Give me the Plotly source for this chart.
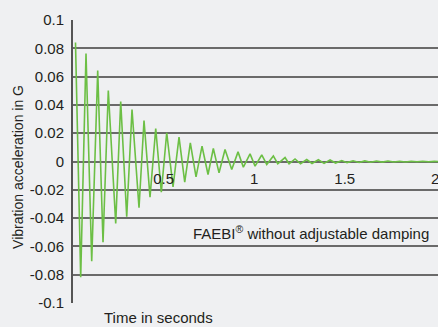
import plotly.graph_objects as go

# Extremes of the decaying oscillation (time in s, acceleration in G)
time_s = [0.0138, 0.0425, 0.0718, 0.1033, 0.1364, 0.1657, 0.1949, 0.2358, 0.2634, 0.2965,
          0.3258, 0.3644, 0.3920, 0.4252, 0.4567, 0.4876, 0.5174, 0.5522, 0.5853, 0.6168,
          0.6477, 0.6792, 0.7123, 0.7454, 0.7747, 0.8062, 0.8393, 0.8763, 0.9111, 0.9404,
          0.9774, 1.0050, 1.0420, 1.0696, 1.1060, 1.1303, 1.1706, 1.1927, 1.2258, 1.2562,
          1.2904, 1.3197, 1.3545, 1.3860, 1.4191, 1.4495, 1.4837, 1.5130, 1.5461, 1.5793,
          1.611, 1.643, 1.675, 1.707, 1.739, 1.771, 1.803, 1.835, 1.867, 1.899,
          1.931, 1.963, 1.995, 2.02]
accel_g = [0.0841, -0.0818, 0.0763, -0.0704, 0.0643, -0.0570, 0.0502, -0.0438, 0.0424, -0.0391,
           0.0367, -0.0327, 0.0290, -0.0252, 0.0233, -0.0217, 0.0203, -0.0179, 0.0172, -0.0146,
           0.0132, -0.0108, 0.0108, -0.0092, 0.0092, -0.0080, 0.0085, -0.0057, 0.0068, -0.0040,
           0.0054, -0.0033, 0.0046, -0.0021, 0.0039, -0.0016, 0.0028, -0.0016, 0.0018, -0.0016,
           0.0014, -0.0014, 0.0012, -0.0013, 0.0011, -0.0011, 0.0007, -0.0008, 0.0005, -0.0007,
           0.0004, -0.0005, 0.0003, -0.0004, 0.0003, -0.0003, 0.0002, -0.0003, 0.0002, -0.0002,
           0.0002, -0.0002, 0.0001, 0.0]

x_tick_vals = [0.5, 1, 1.5, 2]
x_tick_text = ["0.5", "1", "1.5", "2"]
y_tick_vals = [-0.1, -0.08, -0.06, -0.04, -0.02, 0, 0.02, 0.04, 0.06, 0.08, 0.1]
y_tick_text = ["-0.1", "-0.08", "-0.06", "-0.04", "-0.02", "0", "0.02", "0.04", "0.06", "0.08", "0.1"]

FAM = "Liberation Sans, Arial, sans-serif"
BG = "#eff0f2"
GRID = "#6a6a6a"
TXT = "#231f20"


def fnt(size):
    return dict(family=FAM, size=size, color=TXT)


fig = go.Figure()
fig.add_trace(go.Scatter(x=time_s, y=accel_g, mode="lines",
                         line=dict(color="#6cbf45", width=1.6), showlegend=False,
                         hoverinfo="skip"))

fig.update_layout(
    width=438, height=327,
    margin=dict(l=73, r=0, t=20, b=24, autoexpand=False),
    paper_bgcolor=BG, plot_bgcolor=BG,
    font=fnt(15),
    xaxis=dict(range=[0, 2.015], tickvals=x_tick_vals, ticktext=x_tick_text,
               showgrid=False, zeroline=False, showline=False, automargin=False,
               anchor="free", position=0.498, ticklabeloverflow="allow",
               ticks="outside", ticklen=3, tickcolor="rgba(0,0,0,0)",
               tickfont=fnt(15)),
    yaxis=dict(range=[-0.1, 0.1], tickvals=y_tick_vals, ticktext=y_tick_text,
               showgrid=True, gridcolor=GRID, gridwidth=1.6, automargin=False,
               zeroline=True, zerolinecolor=GRID, zerolinewidth=1.6,
               showline=True, linecolor="#555555", linewidth=2,
               ticks="outside", ticklen=4, tickcolor="rgba(0,0,0,0)",
               tickfont=fnt(15)),
    annotations=[
        dict(text="Vibration acceleration in G", xref="paper", yref="paper",
             x=-0.1493, y=0.479, xanchor="center", yanchor="middle",
             textangle=-90, showarrow=False, font=fnt(14)),
        dict(text="Time in seconds", xref="paper", yref="paper",
             x=0.0795, y=-0.053, xanchor="left", yanchor="middle",
             showarrow=False, font=fnt(15)),
        dict(text="FAEBI<sup>®</sup> without adjustable damping", xref="paper", yref="y",
             x=0.981, y=-0.05, xanchor="right", yanchor="middle",
             showarrow=False, font=fnt(15)),
    ],
)

fig.write_html("out.html", config={"displayModeBar": False},
               post_script="document.body.style.margin='0';document.body.style.overflow='hidden';")
